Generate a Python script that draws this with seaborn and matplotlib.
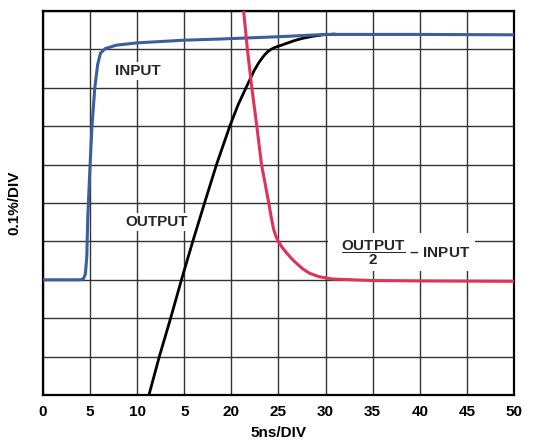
import matplotlib
matplotlib.use("Agg")
import matplotlib.pyplot as plt
import seaborn as sns
import pandas as pd

# ---- data (x in ns units of the axis, y in divisions) ----
input_x = [0, 4.0, 4.3, 4.5, 4.65, 4.75, 5.0, 5.2, 5.5, 5.8, 6.1, 6.6, 7.8, 10, 15, 18.8, 25, 30, 40, 50]
input_y = [3.0, 3.0, 3.03, 3.15, 3.6, 4.6, 6.0, 7.0, 8.0, 8.6, 8.9, 9.02, 9.11, 9.17, 9.24, 9.27, 9.33, 9.39, 9.39, 9.38]

output_x = [11.25, 12.35, 13.55, 14.7, 15.9, 17.15, 18.42, 19.83, 20.7, 21.55, 22.4, 22.9, 23.4, 23.8, 24.2, 24.6, 25.2, 26.0, 26.7, 27.6, 28.6, 29.7, 31.0]
output_y = [0.0, 1.0, 2.0, 3.0, 4.0, 5.0, 6.0, 7.0, 7.55, 8.0, 8.44, 8.65, 8.82, 8.93, 9.0, 9.05, 9.1, 9.17, 9.23, 9.29, 9.34, 9.38, 9.40]

diff_x = [21.3, 21.7, 22.17, 22.7, 23.2, 23.97, 24.25, 24.5, 24.75, 25.0, 25.4, 25.86, 26.4, 26.9, 27.6, 28.3, 29.3, 30.7, 35, 40, 50]
diff_y = [10.0, 9.0, 8.0, 7.0, 6.0, 5.0, 4.6, 4.3, 4.12, 3.99, 3.84, 3.7, 3.55, 3.43, 3.28, 3.17, 3.08, 3.02, 2.98, 2.97, 2.96]

x_ticks = [0, 5, 10, 15, 20, 25, 30, 35, 40, 45, 50]
x_tick_labels = ["0", "5", "10", "5", "20", "25", "30", "35", "40", "45", "50"]
y_ticks = list(range(0, 11))

sns.set_theme(style="white")
plt.rcParams['font.family'] = ['Liberation Sans', 'DejaVu Sans']
plt.rcParams['font.weight'] = 'bold'
plt.rcParams['mathtext.fontset'] = 'custom'
plt.rcParams['mathtext.rm'] = 'Liberation Sans:bold'
plt.rcParams['mathtext.bf'] = 'Liberation Sans:bold'
plt.rcParams['mathtext.it'] = 'Liberation Sans:bold'

fig = plt.figure(figsize=(5.34, 4.4), dpi=100)
ax = fig.add_axes([0.0805, 0.1023, 0.882, 0.8727])

df_in = pd.DataFrame({"x": input_x, "y": input_y})
df_out = pd.DataFrame({"x": output_x, "y": output_y})
df_diff = pd.DataFrame({"x": diff_x, "y": diff_y})

sns.lineplot(data=df_out, x="x", y="y", ax=ax, color="black", lw=2.0, estimator=None, sort=False, zorder=3)
sns.lineplot(data=df_in, x="x", y="y", ax=ax, color="#3A5E9E", lw=2.2, estimator=None, sort=False, zorder=4)
sns.lineplot(data=df_diff, x="x", y="y", ax=ax, color="#E0325A", lw=2.2, estimator=None, sort=False, zorder=5)

ax.set_xlim(0, 50)
ax.set_ylim(0, 10)
ax.set_xticks(x_ticks)
ax.set_xticklabels(x_tick_labels, fontsize=11, fontweight='bold', color='black')
ax.set_yticks(y_ticks)
ax.set_yticklabels([])
ax.tick_params(axis='both', length=0, pad=7)
ax.grid(True, color='#333333', lw=1.0, zorder=1)
ax.set_axisbelow(True)
for s in ax.spines.values():
    s.set_color('black')
    s.set_linewidth(1.6)

ax.set_xlabel("5ns/DIV", fontsize=11, fontweight='bold', color='black', labelpad=5)
ax.set_ylabel("0.1%/DIV", fontsize=11, fontweight='bold', color='black')
ax.yaxis.set_label_coords(-0.045, 0.5)

box = dict(facecolor='white', edgecolor='none', boxstyle='square,pad=0.12')
ax.text(10.1, 8.44, "INPUT", fontsize=11, fontweight='bold', ha='center', va='center', bbox=box, zorder=2)
ax.text(12.05, 4.5, "OUTPUT", fontsize=11, fontweight='bold', ha='center', va='center', bbox=box, zorder=2)
ax.text(45.4, 3.72, r"$\ \ \dfrac{\mathrm{OUTPUT}}{\mathrm{2}}$ – INPUT", fontsize=11, fontweight='bold',
        ha='right', va='center', zorder=2,
        bbox=dict(facecolor='white', edgecolor='none', boxstyle='square,pad=0.3'))

fig.savefig("out.png", dpi=100)
